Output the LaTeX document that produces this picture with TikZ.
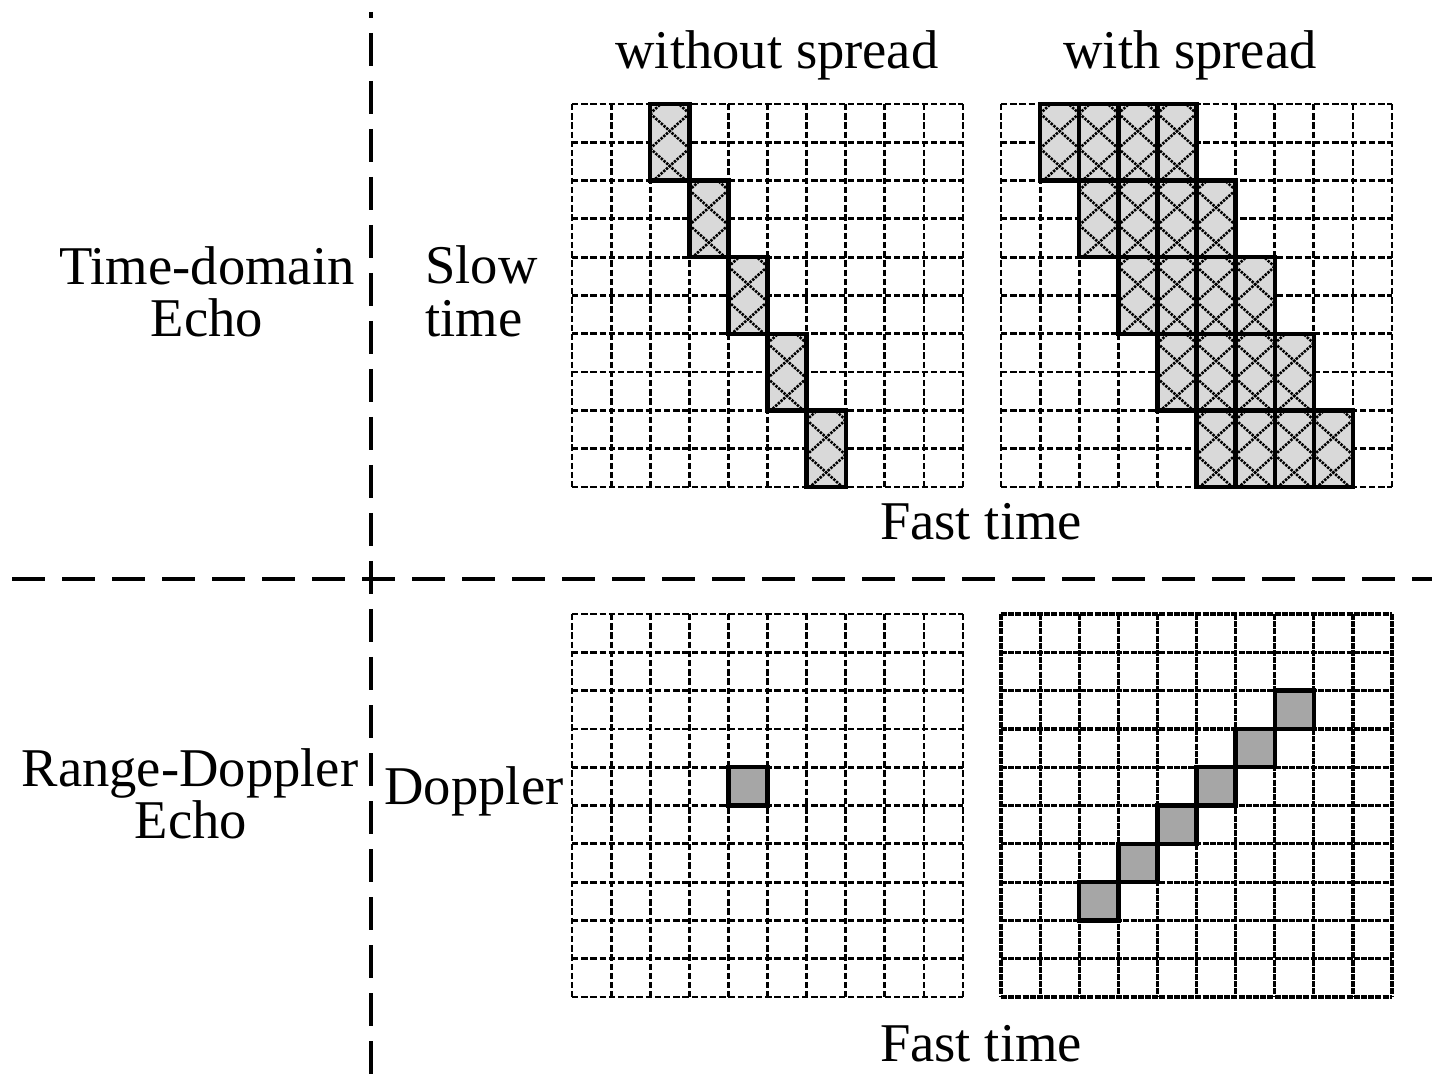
\documentclass[tikz,border=0pt]{standalone}
\usepackage{fontspec}
\setmainfont{Liberation Serif}
\newcommand{\mygrid}[3]{%
  \foreach \i in {0,...,10} {
    \draw[#3] ({#1+\i*39.1},{#2}) -- ({#1+\i*39.1},{#2+383});
    \draw[#3] ({#1},{#2+\i*38.3}) -- ({#1+391},{#2+\i*38.3});
  }}
\newcommand{\hcell}[2]{%
  \pgfmathsetmacro{\hx}{#1}\pgfmathsetmacro{\hy}{#2}%
  \fill[gray!30] (\hx,\hy) rectangle ++(39.1,76.6);
  \begin{scope}
    \clip (\hx,\hy) rectangle ++(39.1,76.6);
    \foreach \k in {-2,...,2} {
      \draw[hatch] (\hx,{\hy+9.5+35*\k}) -- ({\hx+39.1},{\hy+44.5+35*\k});
      \draw[hatch] ({\hx+39.1},{\hy+9.5+35*\k}) -- (\hx,{\hy+44.5+35*\k});
    }
  \end{scope}
  \draw[cellbox] (\hx,\hy) rectangle ++(39.1,76.6);}
\newcommand{\dcell}[2]{%
  \pgfmathsetmacro{\hx}{#1}\pgfmathsetmacro{\hy}{#2}%
  \draw[cellbox, fill=gray!70] (\hx,\hy) rectangle ++(39.1,38.3);}
\begin{document}
\begin{tikzpicture}[x=0.5pt,y=-0.5pt,
  gridline/.style={line width=1.4pt, dash pattern=on 3.2pt off 1.4pt},
  gridlinebr/.style={line width=1.6pt, dash pattern=on 3pt off 0.6pt},
  vsep/.style={line width=2pt, dash pattern=on 16.5pt off 7.5pt, dash phase=13.5pt},
  hsep/.style={line width=2pt, dash pattern=on 16.5pt off 8.5pt},
  cellbox/.style={line width=2.2pt},
  hatch/.style={line width=1.3pt, dash pattern=on 1.2pt off 0.6pt},
  lbl/.style={font=\fontsize{27.3}{26.5}\selectfont, inner sep=0pt, anchor=base}
]
\useasboundingbox (0,0) rectangle (1446,1090);
\fill[white] (0,0) rectangle (1446,1090);

% separators
\draw[vsep] (371,12) -- (371,1078);
\draw[hsep] (12,579) -- (1432,579);

% grids
\mygrid{572}{104}{gridline}
\mygrid{1001}{104}{gridline}
\mygrid{572}{614}{gridline}
\mygrid{1001}{614}{gridlinebr}

% top-left hatched cells (without spread)
\foreach \c in {2,...,6} {
  \hcell{572+\c*39.1}{104+(\c-2)*76.6}
}
% top-right hatched cells (with spread)
\foreach \j in {0,...,4} {
  \foreach \d in {1,...,4} {
    \hcell{1001+(\j+\d)*39.1}{104+\j*76.6}
  }
}
% bottom-left peak
\dcell{572+4*39.1}{614+4*38.3}
% bottom-right peaks
\foreach \c/\r in {7/2,6/3,5/4,4/5,3/6,2/7} {
  \dcell{1001+\c*39.1}{614+\r*38.3}
}

% labels
\node[lbl] (wo) at (777,69) {without spread};
\node[lbl] (wi) at (1190,69) {with spread};
\node[lbl] (ft1) at (981,540) {Fast time};
\node[lbl] (ft2) at (981,1061) {Fast time};
\node[lbl] (td1) at (207,285) {Time-domain};
\node[lbl] (td2) at (207,337) {Echo};
\node[lbl, anchor=base west] (st1) at (425,284) {Slow};
\node[lbl, anchor=base west] (st2) at (425,337) {time};
\node[lbl] (rd1) at (190,786) {Range-Doppler};
\node[lbl] (rd2) at (191,838) {Echo};
\node[lbl] (dop) at (474,804) {Doppler};
\end{tikzpicture}
\end{document}
